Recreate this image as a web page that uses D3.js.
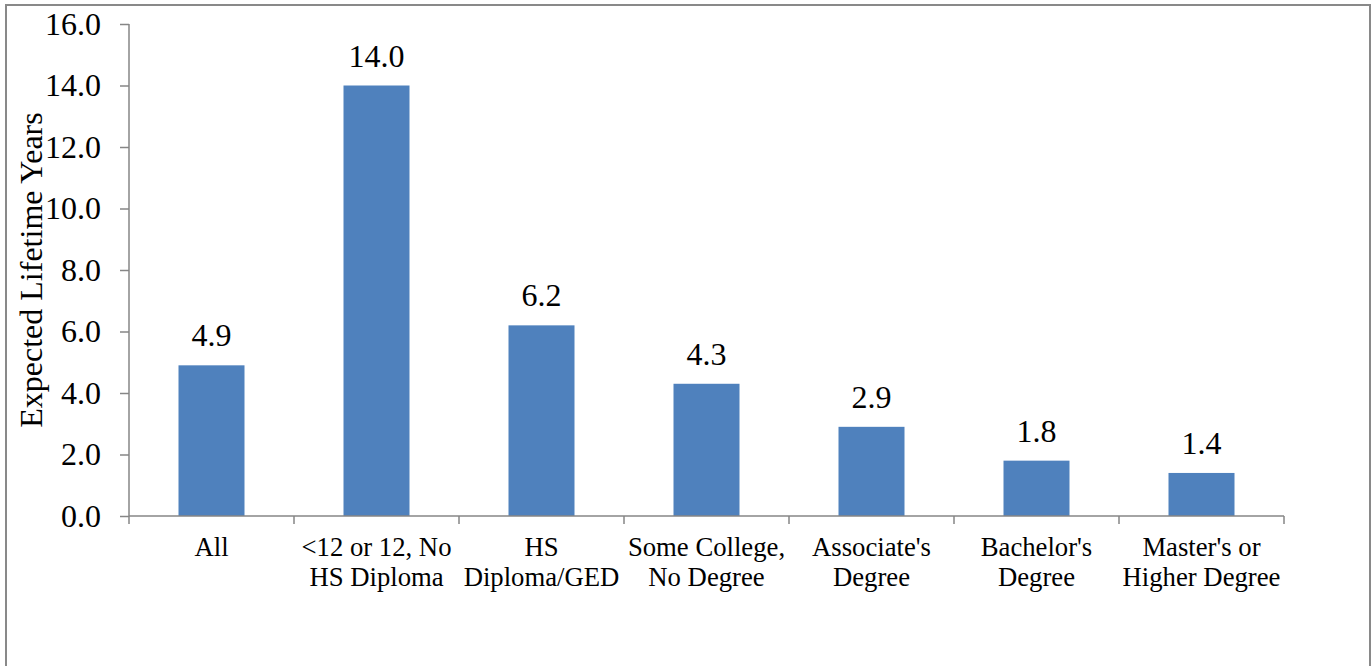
<!DOCTYPE html>
<html>
<head>
<meta charset="utf-8">
<script src="https://cdn.jsdelivr.net/npm/d3@7"></script>
<style>
  body { margin: 0; background: #fff; }
  svg text { font-family: "Liberation Serif", "Times New Roman", Times, "DejaVu Serif", serif !important; fill: #000; }
</style>
</head>
<body>
<script>
    // category labels, "\n" marks the line break used in the picture
    let categories = ["All", "<12 or 12, No\nHS Diploma", "HS\nDiploma/GED", "Some College,\nNo Degree",
                      "Associate's\nDegree", "Bachelor's\nDegree", "Master's or\nHigher Degree"];
    let values = [4.9, 14.0, 6.2, 4.3, 2.9, 1.8, 1.4];
    let yTicks = [0, 2, 4, 6, 8, 10, 12, 14, 16];

    let width = 1371, height = 666;
    let plot = {"left": 129, "right": 1284, "top": 24, "bottom": 516};
    let axisColor = "#868686";
    let serif = "'Liberation Serif', 'Times New Roman', Times, 'DejaVu Serif', serif";

    const svg = d3.select("body")
      .append("svg")
      .attr("width", width)
      .attr("height", height)
      .attr("font-family", serif);

    // chart frame
    svg.append("rect")
      .attr("x", 6)
      .attr("y", 5)
      .attr("width", 1364)
      .attr("height", 680)
      .attr("fill", "none")
      .attr("stroke", "#898989")
      .attr("stroke-width", 2);

    let xscale = d3.scaleBand()
      .domain(categories)
      .range([plot.left, plot.right])
      .paddingInner(0.6)
      .paddingOuter(0.3);

    let yscale = d3.scaleLinear()
      .domain([0, 16])
      .range([plot.bottom, plot.top]);

    // bars
    svg.selectAll("rect.bar")
      .data(values)
      .enter()
      .append("rect")
      .attr("class", "bar")
      .attr("x", (d, i) => xscale(categories[i]))
      .attr("y", (d) => yscale(d))
      .attr("width", xscale.bandwidth())
      .attr("height", (d) => yscale(0) - yscale(d))
      .style("fill", "#4F81BD");

    // value labels
    svg.selectAll("text.value")
      .data(values)
      .enter()
      .append("text")
      .attr("class", "value")
      .attr("x", (d, i) => xscale(categories[i]) + xscale.bandwidth() / 2)
      .attr("y", (d) => yscale(d) - 19)
      .attr("text-anchor", "middle")
      .style("font-family", serif)
      .style("font-size", "32px")
      .text((d) => d3.format(".1f")(d));

    // y axis
    let y_axis = d3.axisLeft()
      .scale(yscale)
      .tickValues(yTicks)
      .tickFormat(d3.format(".1f"))
      .tickSize(9)
      .tickPadding(19);

    let gy = svg.append("g")
      .attr("transform", "translate(" + plot.left + ",0)")
      .call(y_axis)
      .attr("font-family", serif);
    gy.select(".domain").attr("stroke", axisColor).attr("stroke-width", 1.5)
      .attr("d", "M0," + plot.top + "V" + plot.bottom);
    gy.selectAll(".tick line").attr("stroke", axisColor).attr("stroke-width", 1.5);
    gy.selectAll(".tick text")
      .style("font-size", "32px")
      .style("font-family", serif)
      .attr("fill", "#000");

    // x axis: line with tick marks at category boundaries
    let bounds = d3.range(categories.length + 1)
      .map((i) => plot.left + i * xscale.step());

    svg.append("line")
      .attr("x1", plot.left)
      .attr("x2", plot.right)
      .attr("y1", plot.bottom)
      .attr("y2", plot.bottom)
      .attr("stroke", axisColor)
      .attr("stroke-width", 1.5);

    svg.selectAll("line.xtick")
      .data(bounds)
      .enter()
      .append("line")
      .attr("class", "xtick")
      .attr("x1", (d) => d)
      .attr("x2", (d) => d)
      .attr("y1", plot.bottom)
      .attr("y2", plot.bottom + 8)
      .attr("stroke", axisColor)
      .attr("stroke-width", 1.5);

    let labels = svg.selectAll("text.cat")
      .data(categories)
      .enter()
      .append("text")
      .attr("class", "cat")
      .attr("text-anchor", "middle")
      .style("font-family", serif)
      .style("font-size", "26.7px")
      .attr("x", (d) => xscale(d) + xscale.bandwidth() / 2)
      .attr("y", 556);

    labels.selectAll("tspan")
      .data((d) => d.split("\n").map((line) => ({line: line, x: xscale(d) + xscale.bandwidth() / 2})))
      .enter()
      .append("tspan")
      .attr("x", (d) => d.x)
      .attr("dy", (d, i) => i === 0 ? 0 : 30)
      .text((d) => d.line);

    // y axis title
    svg.append("text")
      .text("Expected Lifetime Years")
      .attr("text-anchor", "middle")
      .style("font-family", serif)
      .style("font-size", "32px")
      .attr("transform", "translate(42," + ((plot.top + plot.bottom) / 2) + ") rotate(-90)");
</script>
</body>
</html>
